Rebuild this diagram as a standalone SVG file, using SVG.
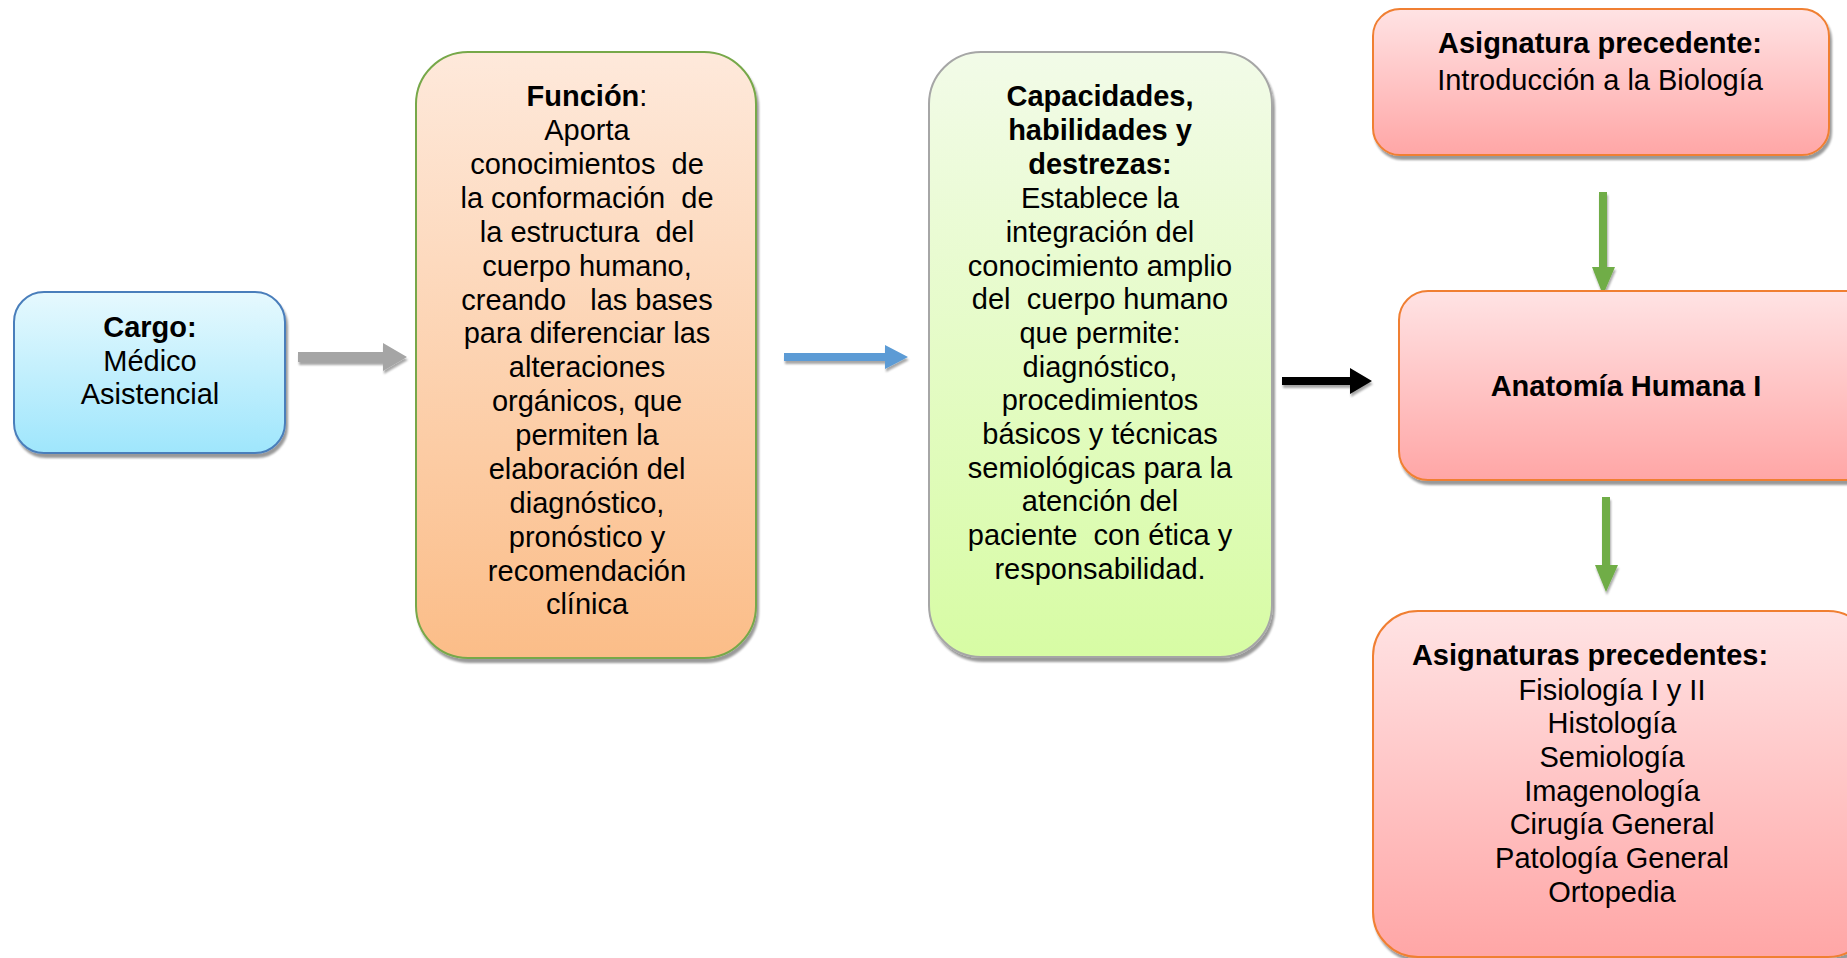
<svg xmlns="http://www.w3.org/2000/svg" width="1847" height="958" viewBox="0 0 1847 958">
<defs>
<linearGradient id="gBlue" x1="0" y1="0" x2="0" y2="1"><stop offset="0" stop-color="#e6f9fe"/><stop offset="1" stop-color="#9fe6fc"/></linearGradient>
<linearGradient id="gPeach" x1="0" y1="0" x2="0" y2="1"><stop offset="0" stop-color="#fee9db"/><stop offset="1" stop-color="#fbbd88"/></linearGradient>
<linearGradient id="gLime" x1="0" y1="0" x2="0" y2="1"><stop offset="0" stop-color="#f2fbe8"/><stop offset="1" stop-color="#d7fca4"/></linearGradient>
<linearGradient id="gPink" x1="0" y1="0" x2="0" y2="1"><stop offset="0" stop-color="#ffe3e4"/><stop offset="1" stop-color="#ffa6a6"/></linearGradient>
<filter id="sh" x="-5%" y="-5%" width="115%" height="115%">
<feGaussianBlur in="SourceAlpha" stdDeviation="1.2"/>
<feOffset dx="2" dy="4" result="o"/>
<feComponentTransfer><feFuncA type="linear" slope="0.4"/></feComponentTransfer>
<feMerge><feMergeNode/><feMergeNode in="SourceGraphic"/></feMerge>
</filter>
<filter id="ash" x="-10%" y="-30%" width="130%" height="170%">
<feGaussianBlur in="SourceAlpha" stdDeviation="0.8"/>
<feOffset dx="1" dy="3"/>
<feComponentTransfer><feFuncA type="linear" slope="0.35"/></feComponentTransfer>
<feMerge><feMergeNode/><feMergeNode in="SourceGraphic"/></feMerge>
</filter>
</defs>
<style>
text{font-family:"Liberation Sans",Arial,sans-serif;font-size:29px;fill:#000;text-anchor:middle;white-space:pre}
.b{font-weight:bold}
.box{stroke-width:2}
</style>
<rect width="1847" height="958" fill="#ffffff"/>

<g id="connectors">
<path filter="url(#ash)" fill="#a5a5a5" d="M298,352 H383 V343 L407,357 L383,371 V362 H298 Z"/>
<path filter="url(#ash)" fill="#5b9bd5" d="M784,353 H885 V345 L908,357 L885,369 V361 H784 Z"/>
<path filter="url(#ash)" fill="#000000" d="M1282,377 H1350 V368 L1372,381 L1350,394 V385 H1282 Z"/>
<path filter="url(#ash)" fill="#70ad47" d="M1599,192 H1607 V267 H1615 L1603,295 L1592,267 H1599 Z"/>
<path filter="url(#ash)" fill="#70ad47" d="M1602,497 H1610 V565 H1618 L1606,592 L1595,565 H1602 Z"/>
</g>

<g id="cargo">
<rect class="box" filter="url(#sh)" x="14" y="292" width="271" height="161" rx="30" fill="url(#gBlue)" stroke="#4a7ebb"/>
<text xml:space="preserve"><tspan class="b" x="150" y="337">Cargo:</tspan><tspan x="150" y="371">Médico</tspan><tspan x="150" y="404">Asistencial</tspan></text>
</g>

<g id="funcion">
<rect class="box" filter="url(#sh)" x="416" y="52" width="340" height="606" rx="52" fill="url(#gPeach)" stroke="#77a84a"/>
<text xml:space="preserve"><tspan x="587" y="106"><tspan class="b">Función</tspan>:</tspan><tspan x="587" y="140">Aporta</tspan><tspan x="587" y="174">conocimientos  de</tspan><tspan x="587" y="208">la conformación  de</tspan><tspan x="587" y="242">la estructura  del</tspan><tspan x="587" y="276">cuerpo humano,</tspan><tspan x="587" y="310">creando   las bases</tspan><tspan x="587" y="343">para diferenciar las</tspan><tspan x="587" y="377">alteraciones</tspan><tspan x="587" y="411">orgánicos, que</tspan><tspan x="587" y="445">permiten la</tspan><tspan x="587" y="479">elaboración del</tspan><tspan x="587" y="513">diagnóstico,</tspan><tspan x="587" y="547">pronóstico y</tspan><tspan x="587" y="581">recomendación</tspan><tspan x="587" y="614">clínica</tspan></text>
</g>

<g id="capacidades">
<rect class="box" filter="url(#sh)" x="929" y="52" width="343" height="605" rx="52" fill="url(#gLime)" stroke="#a6a6a6"/>
<text xml:space="preserve"><tspan class="b" x="1100" y="106">Capacidades,</tspan><tspan class="b" x="1100" y="140">habilidades y</tspan><tspan class="b" x="1100" y="174">destrezas:</tspan><tspan x="1100" y="208">Establece la</tspan><tspan x="1100" y="242">integración del</tspan><tspan x="1100" y="276">conocimiento amplio</tspan><tspan x="1100" y="309">del  cuerpo humano</tspan><tspan x="1100" y="343">que permite:</tspan><tspan x="1100" y="377">diagnóstico,</tspan><tspan x="1100" y="410">procedimientos</tspan><tspan x="1100" y="444">básicos y técnicas</tspan><tspan x="1100" y="478">semiológicas para la</tspan><tspan x="1100" y="511">atención del</tspan><tspan x="1100" y="545">paciente  con ética y</tspan><tspan x="1100" y="579">responsabilidad.</tspan></text>
</g>

<g id="precedente">
<rect class="box" filter="url(#sh)" x="1373" y="9" width="456" height="146" rx="27" fill="url(#gPink)" stroke="#f07f32"/>
<text xml:space="preserve"><tspan class="b" x="1600" y="53">Asignatura precedente:</tspan><tspan x="1600" y="90">Introducción a la Biología</tspan></text>
</g>

<g id="anatomia">
<rect class="box" filter="url(#sh)" x="1399" y="291" width="480" height="189" rx="29" fill="url(#gPink)" stroke="#f07f32"/>
<text class="b" x="1626" y="396">Anatomía Humana I</text>
</g>

<g id="siguientes">
<rect class="box" filter="url(#sh)" x="1373" y="611" width="500" height="346" rx="45" fill="url(#gPink)" stroke="#f07f32"/>
<text xml:space="preserve"><tspan class="b" x="1590" y="665">Asignaturas precedentes:</tspan><tspan x="1612" y="700">Fisiología I y II</tspan><tspan x="1612" y="733">Histología</tspan><tspan x="1612" y="767">Semiología</tspan><tspan x="1612" y="801">Imagenología</tspan><tspan x="1612" y="834">Cirugía General</tspan><tspan x="1612" y="868">Patología General</tspan><tspan x="1612" y="902">Ortopedia</tspan></text>
</g>
</svg>
